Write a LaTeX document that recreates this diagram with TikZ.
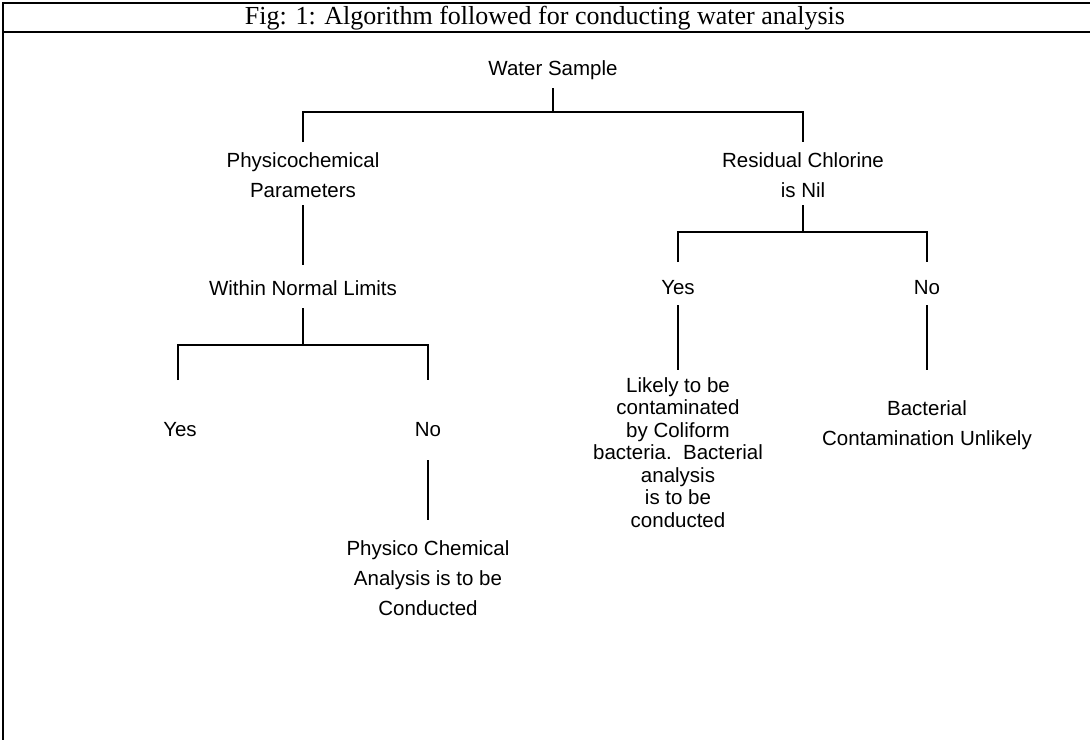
\documentclass[tikz,border=0pt]{standalone}
\usepackage{fontspec}
\setmainfont{Liberation Serif}
\newfontfamily\arialf{Liberation Sans}
\begin{document}
\begin{tikzpicture}[x=1pt,y=-1pt,
  lbl/.style={font=\arialf\fontsize{20.5}{30}\selectfont, align=center, inner sep=0pt},
  tight/.style={font=\arialf\fontsize{20.5}{22.5}\selectfont, align=center, inner sep=0pt},
  conn/.style={line width=1.6pt},
  frame/.style={line width=2.4pt}]
\useasboundingbox (0,0) rectangle (1090,740);
% frame
\coordinate (fTL) at (3,3);
\coordinate (fTR) at (1090,3);
\coordinate (fML) at (3,32);
\coordinate (fMR) at (1090,32);
\coordinate (fBL) at (3,740);
\draw[frame] (fTR) -- (fTL) -- (fBL);
\draw[frame] (fML) -- (fMR);
\node[font=\fontsize{26}{30}\selectfont, inner sep=0pt] (title) at (545,18) {Fig: 1: Algorithm followed for conducting water analysis};

% root
\node[lbl] (ws) at (553,70) {Water Sample};
\node[lbl] (pp) at (303,175) {Physicochemical\\Parameters};
\node[lbl] (rc) at (803,175) {Residual Chlorine\\is Nil};
\coordinate (ws1) at (553,88);
\coordinate (ws2) at (553,112);
\coordinate (bL) at (303,112);
\coordinate (bR) at (803,112);
\coordinate (bL2) at (303,142);
\coordinate (bR2) at (803,142);
\draw[conn] (ws1) -- (ws2);
\draw[conn] (bL2) -- (bL) -- (bR) -- (bR2);

% left branch
\node[lbl] (wnl) at (303,288) {Within Normal Limits};
\coordinate (pp1) at (303,205);
\coordinate (pp2) at (303,265);
\draw[conn] (pp1) -- (pp2);
\coordinate (w1) at (303,308);
\coordinate (w2) at (303,345);
\coordinate (wL) at (178,345);
\coordinate (wR) at (428,345);
\coordinate (wL2) at (178,380);
\coordinate (wR2) at (428,380);
\draw[conn] (w1) -- (w2);
\draw[conn] (wL2) -- (wL) -- (wR) -- (wR2);
\node[lbl] (ly) at (180,430) {Yes};
\node[lbl] (ln) at (428,430) {No};
\coordinate (n1) at (428,460);
\coordinate (n2) at (428,520);
\draw[conn] (n1) -- (n2);
\node[lbl] (pc) at (428,578) {Physico Chemical\\Analysis is to be\\Conducted};

% right branch
\coordinate (r1) at (803,205);
\coordinate (r2) at (803,232);
\coordinate (rL) at (678,232);
\coordinate (rR) at (927,232);
\coordinate (rL2) at (678,262);
\coordinate (rR2) at (927,262);
\draw[conn] (r1) -- (r2);
\draw[conn] (rL2) -- (rL) -- (rR) -- (rR2);
\node[lbl] (ry) at (678,288) {Yes};
\node[lbl] (rn) at (927,288) {No};
\coordinate (y1) at (678,305);
\coordinate (y2) at (678,370);
\coordinate (no1) at (927,305);
\coordinate (no2) at (927,370);
\draw[conn] (y1) -- (y2);
\draw[conn] (no1) -- (no2);
\node[tight, anchor=north] (lk) at (678,377) {Likely to be\\contaminated\\by Coliform\\bacteria.\ \ Bacterial\\analysis\\is to be\\conducted};
\node[lbl] (bc) at (927,425) {Bacterial\\Contamination Unlikely};
\end{tikzpicture}
\end{document}
